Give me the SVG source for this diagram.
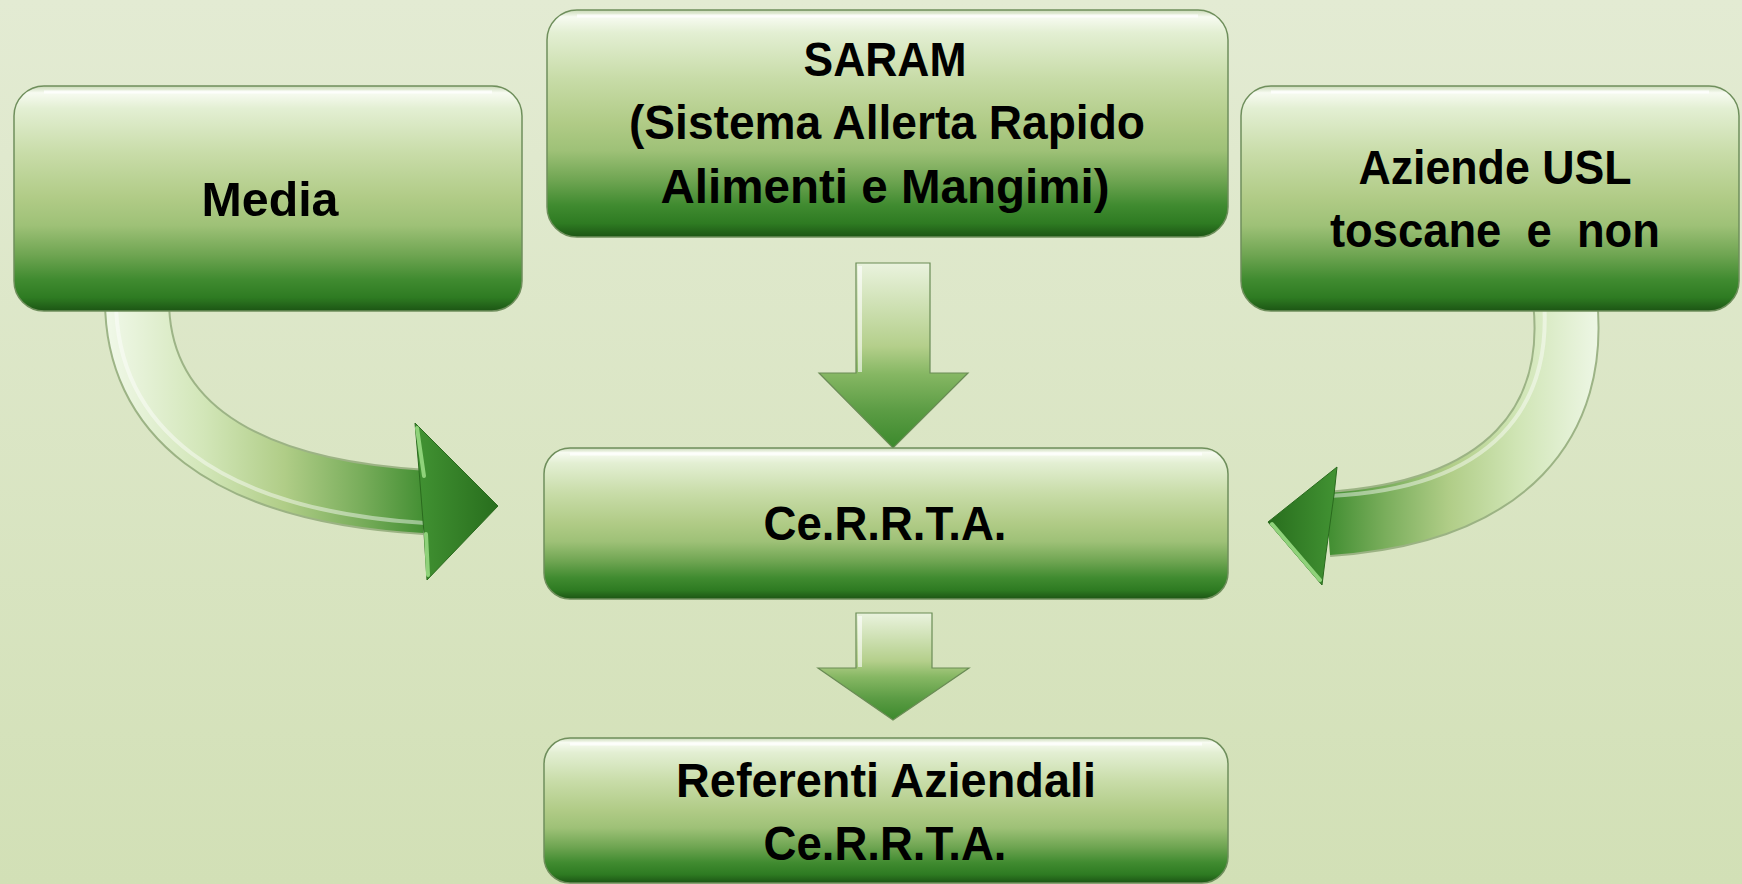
<svg xmlns="http://www.w3.org/2000/svg" width="1742" height="884" viewBox="0 0 1742 884">
<style>
.box{fill:url(#boxg);stroke:#6f8f5c;stroke-width:1.5}
.gloss{fill:none;stroke:#ffffff;stroke-opacity:.75;stroke-width:3}
.t{font-family:"Liberation Sans",Arial,sans-serif;font-weight:bold;font-size:48px;fill:#000;text-anchor:middle}
.down{fill:url(#downg);stroke:#6a8c55;stroke-width:1.2}
.edge{fill:none;stroke:#4f7538;stroke-opacity:.45;stroke-width:66}
.hl{fill:none;stroke:#ffffff;stroke-opacity:.45;stroke-width:4}
.head{stroke:#2a6a1e;stroke-width:1}
.wing{fill:none;stroke:#8fd27a;stroke-width:4;stroke-linecap:round}
</style>
<defs>
<linearGradient id="bg" x1="0" y1="0" x2="0" y2="1">
<stop offset="0" stop-color="#e3ebd3"/><stop offset="1" stop-color="#d2e0b6"/>
</linearGradient>
<linearGradient id="boxg" x1="0" y1="0" x2="0" y2="1">
<stop offset="0" stop-color="#c9d9b6"/>
<stop offset="0.03" stop-color="#f7fbf1"/>
<stop offset="0.1" stop-color="#e3efd3"/>
<stop offset="0.3" stop-color="#c8dca8"/>
<stop offset="0.5" stop-color="#b0cb86"/>
<stop offset="0.62" stop-color="#9ec177"/>
<stop offset="0.75" stop-color="#6fa552"/>
<stop offset="0.86" stop-color="#408b30"/>
<stop offset="0.94" stop-color="#2e7b22"/>
<stop offset="1" stop-color="#1c5514"/>
</linearGradient>
<linearGradient id="downg" x1="0" y1="0" x2="0" y2="1">
<stop offset="0" stop-color="#eaf3de"/>
<stop offset="0.45" stop-color="#b4cf8b"/>
<stop offset="0.6" stop-color="#86b763"/>
<stop offset="0.8" stop-color="#5b9c44"/>
<stop offset="1" stop-color="#3b892c"/>
</linearGradient>
<linearGradient id="shaftL" gradientUnits="userSpaceOnUse" x1="107" y1="0" x2="430" y2="0">
<stop offset="0" stop-color="#f0f8e8"/>
<stop offset="0.3" stop-color="#d2e6b8"/>
<stop offset="0.55" stop-color="#b0cd87"/>
<stop offset="0.78" stop-color="#7aae5c"/>
<stop offset="1" stop-color="#3e8c2f"/>
</linearGradient>
<linearGradient id="shaftR" gradientUnits="userSpaceOnUse" x1="1600" y1="0" x2="1325" y2="0">
<stop offset="0" stop-color="#eef7e6"/>
<stop offset="0.3" stop-color="#d0e5b5"/>
<stop offset="0.55" stop-color="#b0cd87"/>
<stop offset="0.78" stop-color="#7aae5c"/>
<stop offset="1" stop-color="#3e8c2f"/>
</linearGradient>
<linearGradient id="headL" gradientUnits="userSpaceOnUse" x1="415" y1="0" x2="498" y2="0">
<stop offset="0" stop-color="#429333"/><stop offset="1" stop-color="#286e1d"/>
</linearGradient>
<linearGradient id="headR" gradientUnits="userSpaceOnUse" x1="1337" y1="0" x2="1268" y2="0">
<stop offset="0" stop-color="#429333"/><stop offset="1" stop-color="#286e1d"/>
</linearGradient>
</defs>
<rect x="0" y="0" width="1742" height="884" fill="url(#bg)"/>

<g id="connectors">
<g id="arrow-media-cerrta">
<path class="edge" d="M137,300 C137,410 220,490 425,502"/>
<path d="M137,300 C137,410 220,490 425,502" fill="none" stroke="url(#shaftL)" stroke-width="62"/>
<path class="hl" d="M116,300 C116,425 215,510 425,523"/>
<polygon class="head" fill="url(#headL)" points="415,423 498,506 427,580 424,533 419,470"/>
<polyline class="wing" points="417,428 424,476"/>
<polyline class="wing" points="428,575 426,534"/>
</g>
<g id="arrow-saram-cerrta">
<polygon class="down" points="856,263 930,263 930,373 968,373 893,448 819,373 856,373"/>
<line x1="860" y1="266" x2="860" y2="372" stroke="#ffffff" stroke-opacity=".6" stroke-width="4"/>
</g>
<g id="arrow-aziende-cerrta">
<path class="edge" d="M1565,300 C1578,420 1510,512 1328,524"/>
<path d="M1565,300 C1578,420 1510,512 1328,524" fill="none" stroke="url(#shaftR)" stroke-width="62"/>
<path class="hl" d="M1544,300 C1552,405 1495,488 1330,496"/>
<polygon class="head" fill="url(#headR)" points="1337,467 1268,522 1322,585 1326,553 1334,495"/>
<polyline class="wing" points="1272,524 1320,580"/>
</g>
<g id="arrow-cerrta-referenti">
<polygon class="down" points="856,613 932,613 932,668 969,668 893,720 818,668 856,668"/>
<line x1="860" y1="616" x2="860" y2="667" stroke="#ffffff" stroke-opacity=".6" stroke-width="4"/>
</g>
</g>

<g id="node-media">
<rect class="box" x="14" y="86" width="508" height="225" rx="30"/>
<path class="gloss" d="M44,92 H492"/>
<text class="t" x="270" y="216" textLength="137" lengthAdjust="spacingAndGlyphs">Media</text>
</g>

<g id="node-saram">
<rect class="box" x="547" y="10" width="681" height="227" rx="30"/>
<path class="gloss" d="M577,16 H1198"/>
<text class="t" x="885" y="76" textLength="163" lengthAdjust="spacingAndGlyphs">SARAM</text>
<text class="t" x="887" y="139" textLength="516" lengthAdjust="spacingAndGlyphs">(Sistema Allerta Rapido</text>
<text class="t" x="885" y="203" textLength="449" lengthAdjust="spacingAndGlyphs">Alimenti e Mangimi)</text>
</g>

<g id="node-aziende">
<rect class="box" x="1241" y="86" width="498" height="225" rx="30"/>
<path class="gloss" d="M1271,92 H1709"/>
<text class="t" x="1495" y="184" textLength="273" lengthAdjust="spacingAndGlyphs">Aziende USL</text>
<text class="t" x="1495" y="247" textLength="330" lengthAdjust="spacingAndGlyphs" xml:space="preserve">toscane  e  non</text>
</g>

<g id="node-cerrta">
<rect class="box" x="544" y="448" width="684" height="151" rx="26"/>
<path class="gloss" d="M570,454 H1202"/>
<text class="t" x="885" y="540" textLength="243" lengthAdjust="spacingAndGlyphs">Ce.R.R.T.A.</text>
</g>

<g id="node-referenti">
<rect class="box" x="544" y="738" width="684" height="145" rx="26"/>
<path class="gloss" d="M570,744 H1202"/>
<text class="t" x="886" y="797" textLength="420" lengthAdjust="spacingAndGlyphs">Referenti Aziendali</text>
<text class="t" x="885" y="860" textLength="243" lengthAdjust="spacingAndGlyphs">Ce.R.R.T.A.</text>
</g>
</svg>
